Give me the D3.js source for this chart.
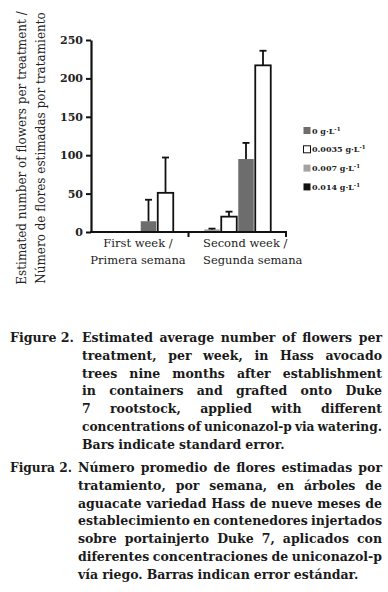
<!DOCTYPE html>
<html>
<head>
<meta charset="utf-8">
<script src="https://cdn.jsdelivr.net/npm/d3@7"></script>
<style>
  html, body { margin: 0; padding: 0; background: #fff; }
  svg { display: block; }
</style>
</head>
<body>
<div id="chart"></div>
<script>
// data
const weeks = ["First week", "Second week"];
const weekLabels = [["First week /", "Primera semana"], ["Second week /", "Segunda semana"]];
const slots = ["a", "b", "c", "d"];
const slotFills = ["#a3a3a3", "#ffffff", "#6d6d6d", "#ffffff"];
const means = [[0, 0, 14, 51], [3.4, 20, 95, 217]];
const errors = [[0, 0, 28, 46], [1, 6.5, 21, 19]];
const yTicks = [0, 50, 100, 150, 200, 250];
const legendLabels = ["0 g·L", "0.0035 g·L", "0.007 g·L", "0.014 g·L"];
const legendFills = ["#6d6d6d", "#ffffff", "#a3a3a3", "#111111"];

const captionEn = [
  "Estimated average number of flowers per",
  "treatment, per week, in Hass avocado",
  "trees nine months after establishment",
  "in containers and grafted onto Duke",
  "7 rootstock, applied with different",
  "concentrations of uniconazol-p via watering.",
  "Bars indicate standard error."
];
const captionEs = [
  "Número promedio de flores estimadas por",
  "tratamiento, por semana, en árboles de",
  "aguacate variedad Hass de nueve meses de",
  "establecimiento en contenedores injertados",
  "sobre portainjerto Duke 7, aplicados con",
  "diferentes concentraciones de uniconazol-p",
  "vía riego. Barras indican error estándar."
];

const width = 388,
  height = 592;

const svg = d3
  .select("#chart")
  .append("svg")
  .attr("width", width)
  .attr("height", height)
  .style("font-family", "'DejaVu Serif', serif");

svg.append("rect").attr("width", width).attr("height", height).attr("fill", "#fff");

const x0 = d3.scaleBand().domain(weeks).range([91, 286]);
const x1 = d3.scaleBand().domain(slots).range([15, 83]);
const y = d3.scaleLinear().domain([0, 250]).range([232, 40]);

// bars
const groups = svg
  .append("g")
  .selectAll("g")
  .data(weeks)
  .join("g")
  .attr("transform", (d) => `translate(${x0(d)},0)`);

groups
  .selectAll("rect")
  .data((d, i) => slots.map((s, j) => ({ s, v: means[i][j], e: errors[i][j], fill: slotFills[j] })))
  .join("rect")
  .filter((d) => d.v > 0)
  .attr("x", (d) => x1(d.s) + 0.75)
  .attr("width", x1.bandwidth() - 1.5)
  .attr("y", (d) => y(d.v))
  .attr("height", (d) => y(0) - y(d.v))
  .attr("fill", (d) => d.fill)
  .attr("stroke", (d) => (d.fill === "#ffffff" ? "#111" : "none"))
  .attr("stroke-width", 1.8);

// error bars
const err = groups
  .selectAll("g.err")
  .data((d, i) => slots.map((s, j) => ({ s, v: means[i][j], e: errors[i][j] })).filter((d) => d.e > 0))
  .join("g")
  .attr("class", "err")
  .attr("stroke", "#111")
  .attr("stroke-width", 1.8);

err
  .append("line")
  .attr("x1", (d) => x1(d.s) + x1.bandwidth() / 2)
  .attr("x2", (d) => x1(d.s) + x1.bandwidth() / 2)
  .attr("y1", (d) => y(d.v))
  .attr("y2", (d) => y(d.v + d.e));

err
  .append("line")
  .attr("x1", (d) => x1(d.s) + x1.bandwidth() / 2 - 3.5)
  .attr("x2", (d) => x1(d.s) + x1.bandwidth() / 2 + 3.5)
  .attr("y1", (d) => y(d.v + d.e))
  .attr("y2", (d) => y(d.v + d.e));

// y axis
const yAxis = svg
  .append("g")
  .attr("transform", "translate(91,0)")
  .call(d3.axisLeft(y).tickValues(yTicks).tickSize(5).tickSizeOuter(0).tickPadding(3));
yAxis.select(".domain").attr("stroke", "#111").attr("stroke-width", 2.2);
yAxis.selectAll(".tick line").attr("stroke", "#111").attr("stroke-width", 2);
yAxis
  .selectAll(".tick text")
  .attr("fill", "#222")
  .style("font-family", "'DejaVu Serif', serif")
  .style("font-weight", "bold")
  .style("font-size", "11px");

// x axis
const xAxis = svg.append("g").attr("transform", `translate(0,${y(0)})`);
xAxis
  .append("line")
  .attr("x1", 90)
  .attr("x2", 287)
  .attr("stroke", "#111")
  .attr("stroke-width", 2.2);
xAxis
  .selectAll("line.tk")
  .data(weeks)
  .join("line")
  .attr("class", "tk")
  .attr("x1", (d) => x0(d) + x0.bandwidth())
  .attr("x2", (d) => x0(d) + x0.bandwidth())
  .attr("y1", 0)
  .attr("y2", 5)
  .attr("stroke", "#111")
  .attr("stroke-width", 2);

svg
  .append("g")
  .selectAll("text")
  .data(weekLabels)
  .join("text")
  .attr("transform", (d, i) =>
    i === 0 ? `translate(${x0(weeks[0]) + 47},0)` : `translate(203,0)`
  )
  .attr("text-anchor", (d, i) => (i === 0 ? "middle" : "start"))
  .style("font-size", "11.5px")
  .attr("fill", "#222")
  .selectAll("tspan")
  .data((d) => d)
  .join("tspan")
  .attr("x", 0)
  .attr("y", (d, i) => 247 + i * 17)
  .text((d) => d);

// y title
const yTitle = svg
  .append("text")
  .attr("transform", "translate(0,148) rotate(-90)")
  .attr("text-anchor", "middle")
  .style("font-size", "12px")
  .attr("fill", "#222");
yTitle.append("tspan").attr("x", 0).attr("y", 26).text("Estimated number of flowers per treatment /");
yTitle.append("tspan").attr("x", 0).attr("y", 45).text("Número de flores estimadas por tratamiento");

// legend
const legend = svg
  .append("g")
  .selectAll("g")
  .data(legendLabels)
  .join("g")
  .attr("transform", (d, i) => `translate(303,${130.5 + i * 18.8})`);
legend
  .append("rect")
  .attr("x", 0.5)
  .attr("y", -3.5)
  .attr("width", 7)
  .attr("height", 7)
  .attr("fill", (d, i) => legendFills[i])
  .attr("stroke", (d, i) => (legendFills[i] === "#ffffff" ? "#111" : "none"))
  .attr("stroke-width", 1);
const lt = legend
  .append("text")
  .attr("x", 9)
  .attr("y", 3)
  .style("font-size", "8px")
  .style("font-weight", "bold")
  .attr("fill", "#222");
lt.append("tspan").text((d) => d);
lt.append("tspan").attr("dy", -3).style("font-size", "5.5px").text("-1");

// captions, justified word by word
function caption(label, labelWidth, lines, top, indent) {
  const g = svg
    .append("g")
    .style("font-size", "12.5px")
    .style("font-weight", "bold")
    .attr("fill", "#1a1a1a");
  g.append("text")
    .attr("x", 10)
    .attr("y", top)
    .attr("textLength", labelWidth)
    .attr("lengthAdjust", "spacingAndGlyphs")
    .text(label);
  const right = 382;
  lines.forEach((line, li) => {
    const yy = top + li * 17.8;
    const words = line.split(" ");
    const nodes = words.map((w) => g.append("text").attr("y", yy).text(w));
    const widths = nodes.map((n) => n.node().getComputedTextLength());
    const total = d3.sum(widths);
    const minGap = 3;
    const last = li === lines.length - 1;
    let gap = last ? 4 : (right - indent - total) / (words.length - 1);
    let scale = 1;
    if (gap < minGap) {
      gap = minGap;
      scale = (right - indent - minGap * (words.length - 1)) / total;
    }
    let xx = indent;
    nodes.forEach((n, i) => {
      n.attr("x", xx);
      if (scale < 1)
        n.attr("textLength", widths[i] * scale).attr("lengthAdjust", "spacingAndGlyphs");
      xx += widths[i] * scale + gap;
    });
  });
}

caption("Figure 2.", 64, captionEn, 342, 82);
caption("Figura 2.", 62, captionEs, 472, 78);
</script>
</body>
</html>
